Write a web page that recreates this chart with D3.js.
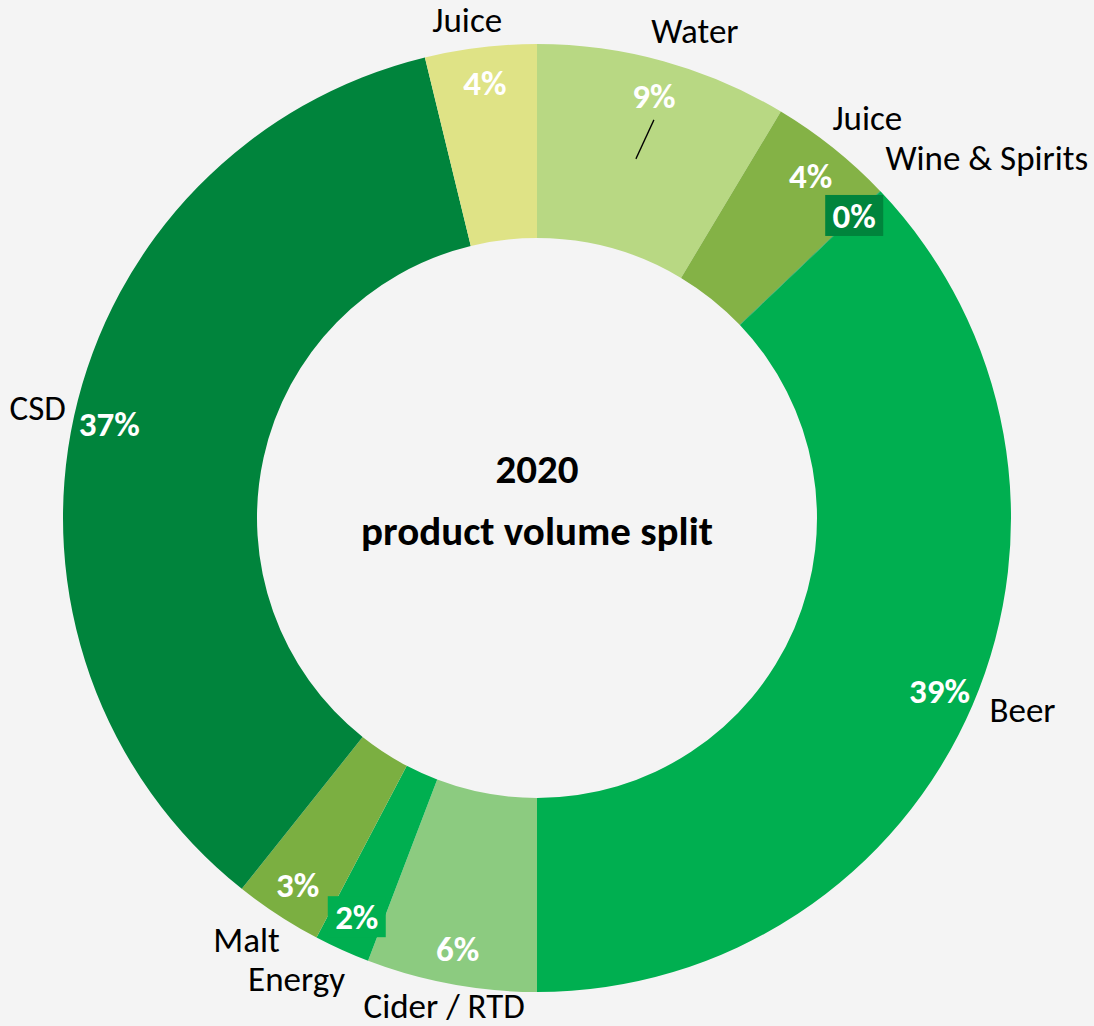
<!DOCTYPE html>
<html>
<head>
<meta charset="utf-8">
<script src="https://cdn.jsdelivr.net/npm/d3@7"></script>
<style>
  html, body { margin: 0; padding: 0; background: #f4f4f4; }
  svg { display: block; }
</style>
</head>
<body>
<svg id="chart" width="1094" height="1026"></svg>
<script>
// slices clockwise from 12 o'clock
const categories = ["Water", "Juice", "Wine & Spirits", "Beer", "Cider / RTD", "Energy", "Malt", "CSD", "Juice"];
const shares = [8.6, 4.28, 0.02, 37.1, 5.8, 1.9, 3.0, 35.5, 3.8];
const pctLabels = ["9%", "4%", "0%", "39%", "6%", "2%", "3%", "37%", "4%"];
const colors = ["#b8d883", "#84b246", "#00843c", "#00af50", "#8ccb80", "#00af50", "#7baf41", "#00843c", "#dfe386"];
const boxed = [false, false, true, false, false, true, false, false, false];

const width = 1094, height = 1026;
const cx = 537, cy = 518;
const outerR = 474, innerR = 280;
const font = "Calibri, Carlito, Lato, sans-serif";

const svg = d3.select("#chart");
const g = svg.append("g").attr("transform", `translate(${cx},${cy})`);

const data = categories.map((c, i) => ({ name: c, value: shares[i], pct: pctLabels[i], color: colors[i], box: boxed[i] }));
const pie = d3.pie().sort(null).value(d => d.value);
const arcs = pie(data);

const arc = d3.arc().innerRadius(innerR).outerRadius(outerR);

g.selectAll("path.slice")
  .data(arcs).enter()
  .append("path")
  .attr("class", "slice")
  .attr("d", arc)
  .attr("fill", d => d.data.color);

// category names around the outside: box kept a small gap off the ring,
// then shifted a little where the labels crowd each other
const gap = 6;
const nameNudge = { 0: [22, 4], 1: [8, 3], 2: [40, 30], 3: [10, -12], 4: [0, -2], 5: [-28, -10], 6: [-10, -8], 8: [-10, 0] };
g.selectAll("text.name")
  .data(arcs).enter()
  .append("text")
  .attr("class", "name")
  .attr("text-anchor", "middle")
  .attr("dominant-baseline", "central")
  .style("font-family", font)
  .style("font-size", "35px")
  .style("fill", "#000")
  .text(d => d.data.name)
  .each(function (d, i) {
    const bb = this.getBBox();
    const a = (d.startAngle + d.endAngle) / 2;
    const sx = Math.sin(a), sy = -Math.cos(a);
    const ext = Math.abs(sx) * bb.width / 2 + Math.abs(sy) * 18;
    const r = outerR + gap + ext;
    let x = sx * r, y = sy * r;
    y = Math.min(y, height - cy - 18);
    if (nameNudge[i]) { x += nameNudge[i][0]; y += nameNudge[i][1]; }
    d3.select(this).attr("x", x).attr("y", y);
  });

// percentage labels just inside the outer edge
const pctArc = d3.arc().innerRadius(438).outerRadius(438);
const pctG = g.selectAll("g.pct")
  .data(arcs).enter()
  .append("g")
  .attr("class", "pct")
  .attr("transform", d => `translate(${pctArc.centroid(d)})`);

pctG.filter(d => d.data.box)
  .append("rect")
  .attr("x", -29).attr("y", -21)
  .attr("width", 58).attr("height", 41)
  .attr("fill", d => d.data.color);

pctG.append("text")
  .attr("text-anchor", "middle")
  .attr("dominant-baseline", "central")
  .style("font-family", font)
  .style("font-size", "35px")
  .style("font-weight", "bold")
  .style("fill", "#fff")
  .text(d => d.data.pct);

// leader line under the water label
pctG.filter((d, i) => i === 0)
  .append("line")
  .attr("x1", 0).attr("y1", 24)
  .attr("x2", -18).attr("y2", 63)
  .attr("stroke", "#000")
  .attr("stroke-width", 1.3);

// centre title
const title = g.append("text")
  .attr("text-anchor", "middle")
  .style("font-family", font)
  .style("font-size", "41px")
  .style("font-weight", "bold")
  .style("fill", "#000");
title.append("tspan").attr("x", 0).attr("y", -35).text("2020");
title.append("tspan").attr("x", 0).attr("y", 27).text("product volume split");
</script>
</body>
</html>
